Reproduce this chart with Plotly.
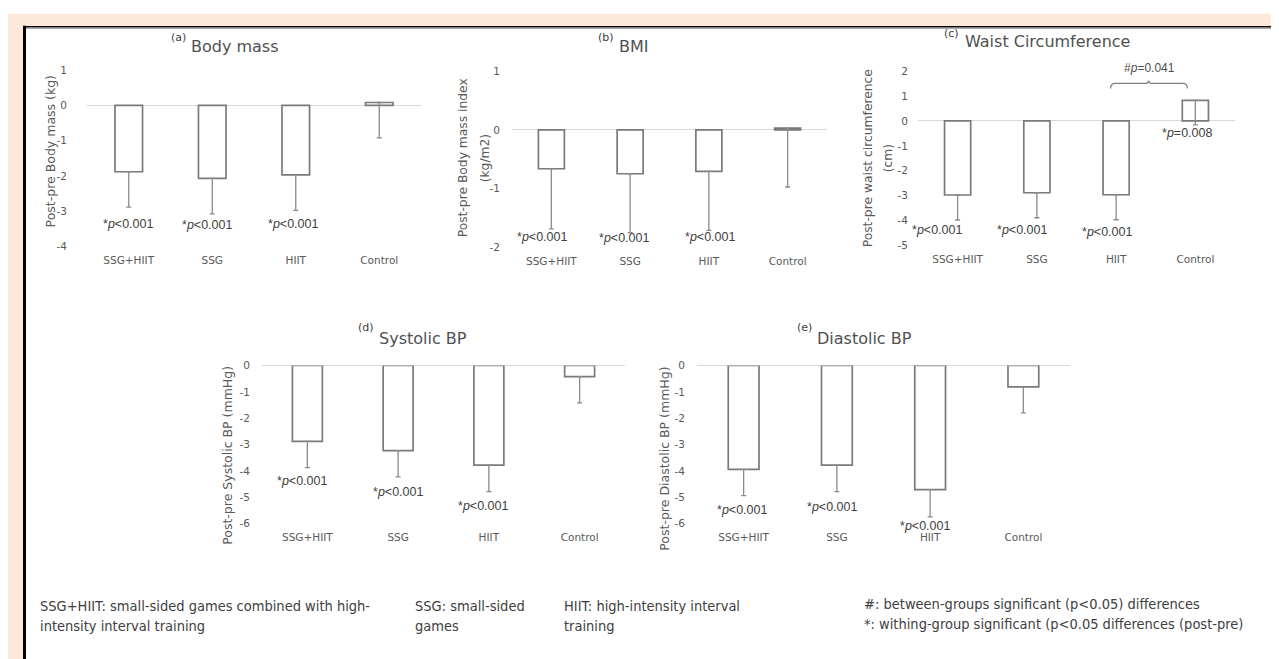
import plotly.graph_objects as go

W, H = 1279, 659
OFF = 8  # page body margin

categories = ["SSG+HIIT", "SSG", "HIIT", "Control"]

body_mass = [-1.88, -2.07, -1.97, 0.08]
body_mass_err = [1.0, 1.0, 1.0, 1.0]

bmi = [-0.66, -0.745, -0.705, 0.03]
bmi_err = [1.02, 1.0, 1.0, 1.0]

waist = [-2.97, -2.88, -2.96, 0.82]
waist_err = [1.0, 1.0, 1.0, 0.98]

systolic = [-2.88, -3.23, -3.78, -0.42]
systolic_err = [1.0, 1.0, 1.01, 1.0]

diastolic = [-3.94, -3.78, -4.71, -0.81]
diastolic_err = [1.0, 1.01, 1.04, 0.99]

p_within = "*<i>p</i>&lt;0.001"
p_control_waist = "*<i>p</i>=0.008"
p_between_waist = "#<i>p</i>=0.041"

footer = [
    ("SSG+HIIT: small-sided games combined with high-", "intensity interval training"),
    ("SSG: small-sided", "games"),
    ("HIIT: high-intensity interval", "training"),
]
footer_right = [
    "#: between-groups significant (p<0.05) differences",
    "*: withing-group significant (p<0.05 differences (post-pre)",
]


def fx(px):
    return (px - OFF) / W


def fy(py):
    return 1 - (py - OFF) / H


panels = [
    dict(vals=body_mass, err=body_mass_err, x=(87, 421), y=(65, 245), rng=(-4, 1), so=19),
    dict(vals=bmi, err=bmi_err, x=(512, 827), y=(66, 246), rng=(-2, 1), so=11),
    dict(vals=waist, err=waist_err, x=(918, 1235), y=(66, 244), rng=(-5, 2), so=9),
    dict(vals=systolic, err=systolic_err, x=(262, 625), y=(366, 527), rng=(-6, 0), so=11),
    dict(vals=diastolic, err=diastolic_err, x=(697, 1070), y=(366, 527), rng=(-6, 0), so=11),
]

AX_FONT = "DejaVu Sans"
GRAY = "#595959"
BAR_LINE = "#7a7a7a"

fig = go.Figure()
layout = {}
for i, p in enumerate(panels, start=1):
    suffix = "" if i == 1 else str(i)
    fig.add_trace(go.Bar(
        x=categories, y=p["vals"],
        xaxis="x" + suffix, yaxis="y" + suffix,
        marker=dict(color="white", line=dict(color=BAR_LINE, width=1.7)),
        error_y=dict(type="data", symmetric=False, array=[0, 0, 0, 0],
                     arrayminus=p["err"], color="#8a8a8a", thickness=1.3, width=2.5),
        showlegend=False, hoverinfo="skip",
    ))
    tv = list(range(p["rng"][0], p["rng"][1] + 1))
    layout["xaxis" + suffix] = dict(
        domain=[fx(p["x"][0]), fx(p["x"][1])], anchor="y" + suffix,
        type="category", range=[-0.5, 3.5], showgrid=False, showline=False,
        zeroline=False, ticks="", tickfont=dict(family=AX_FONT, size=10.5, color=GRAY),
        ticklabelstandoff=6, fixedrange=True,
    )
    layout["yaxis" + suffix] = dict(
        domain=[fy(p["y"][1]), fy(p["y"][0])], anchor="x" + suffix,
        range=list(p["rng"]), tickvals=tv, ticktext=[str(v) for v in tv],
        showgrid=False, showline=False,
        zeroline=True, zerolinecolor="#d9d9d9", zerolinewidth=1, ticks="",
        tickfont=dict(family=AX_FONT, size=10.5, color=GRAY),
        ticklabelstandoff=p["so"], fixedrange=True,
    )

fig.update_layout(**layout)
fig.update_layout(
    width=W, height=H, margin=dict(l=0, r=0, t=0, b=0),
    paper_bgcolor="white", plot_bgcolor="rgba(0,0,0,0)",
    bargap=0.67, showlegend=False,
)

shapes = [
    dict(type="rect", xref="paper", yref="paper", x0=0, x1=1, y0=0, y1=1,
         fillcolor="#fde8da", line=dict(width=0), layer="below"),
    dict(type="rect", xref="paper", yref="paper", x0=fx(24), x1=fx(1278), y0=0, y1=fy(21),
         fillcolor="white", line=dict(width=0), layer="below"),
    dict(type="line", xref="paper", yref="paper", x0=fx(24.5), x1=fx(24.5), y0=0, y1=fy(20),
         line=dict(color="black", width=3)),
    dict(type="line", xref="paper", yref="paper", x0=fx(23), x1=fx(1279), y0=fy(21), y1=fy(21),
         line=dict(color="black", width=1.6)),
    dict(type="line", xref="paper", yref="paper", x0=fx(26), x1=fx(1276), y0=fy(22.8), y1=fy(22.8),
         line=dict(color="#a8a8a8", width=1)),
    dict(type="line", xref="paper", yref="paper", x0=fx(1277.5), x1=fx(1277.5), y0=0, y1=fy(20),
         line=dict(color="black", width=2)),
    # bracket between HIIT and Control in panel (c)
    dict(type="path", xref="x3", yref="y3",
         path="M 1.93,1.3 Q 1.93,1.5 1.99,1.5 L 2.36,1.5 Q 2.41,1.5 2.41,1.62 "
              "Q 2.41,1.5 2.46,1.5 L 2.84,1.5 Q 2.9,1.5 2.9,1.3",
         line=dict(color="#7f7f7f", width=1.3)),
]

ann = []


def add_text(text, x, y, size, color=GRAY, family=AX_FONT, angle=0, xanchor="center"):
    ann.append(dict(text=text, x=fx(x), y=fy(y), xref="paper", yref="paper",
                    showarrow=False, textangle=angle, xanchor=xanchor, yanchor="middle",
                    font=dict(size=size, color=color, family=family)))


# titles
titles = [
    ("(a)", 188, 32, "Body mass", 189, 41),
    ("(b)", 616, 32, "BMI", 617, 41),
    ("(c)", 961, 28, "Waist Circumference", 963, 36),
    ("(d)", 376, 327, "Systolic BP", 377, 339),
    ("(e)", 814, 327, "Diastolic BP", 815, 339),
]
for lab, lx, ly, t, tx, ty in titles:
    add_text(lab, lx, ly, 11, color="#404040", xanchor="right")
    add_text(t, tx, ty, 16, color="#505050", xanchor="left")

# y-axis titles
add_text("Post-pre Body mass (kg)", 50, 148, 12.5, angle=-90)
add_text("Post-pre Body mass index", 463, 155, 12.3, angle=-90)
add_text("(kg/m2)", 485, 155, 12.3, angle=-90)
add_text("Post-pre waist circumference", 868, 155, 12.3, angle=-90)
add_text("(cm)", 888, 155, 12.3, angle=-90)
add_text("Post-pre Systolic BP (mmHg)", 228, 458, 12.5, angle=-90)
add_text("Post-pre Diastolic BP (mmHg)", 665, 461, 12.5, angle=-90)

# significance labels (page pixel positions)
P_FAMILY = "Liberation Sans, Arial"
p_positions = [
    (128, 222), (207, 223), (293, 222),
    (542, 235), (624, 236), (710, 235),
    (937, 228), (1022, 228), (1107, 230),
    (302, 484), (398, 495), (483, 509),
    (742, 513), (832, 510), (925, 529),
]
for x, y in p_positions:
    add_text(p_within, x, y, 12.5, color="#404040", family=P_FAMILY)
add_text(p_control_waist, 1187, 129, 12.5, color="#404040", family=P_FAMILY)
add_text(p_between_waist, 1149, 63, 12, color="#505050", family=P_FAMILY)

# footer
F_FONT = "Liberation Sans Narrow, Arial Narrow, DejaVu Sans Condensed, Liberation Sans"
footer_x = [38, 413, 562]
for (l1, l2), x in zip(footer, footer_x):
    add_text(l1, x, 611, 14.5, color="#404040", family=F_FONT, xanchor="left")
    add_text(l2, x, 631, 14.5, color="#404040", family=F_FONT, xanchor="left")
add_text(footer_right[0], 862, 609, 14.5, color="#404040", family=F_FONT, xanchor="left")
add_text(footer_right[1], 862, 629, 14.5, color="#404040", family=F_FONT, xanchor="left")

fig.update_layout(shapes=shapes, annotations=ann)
fig.write_html("out.html")
